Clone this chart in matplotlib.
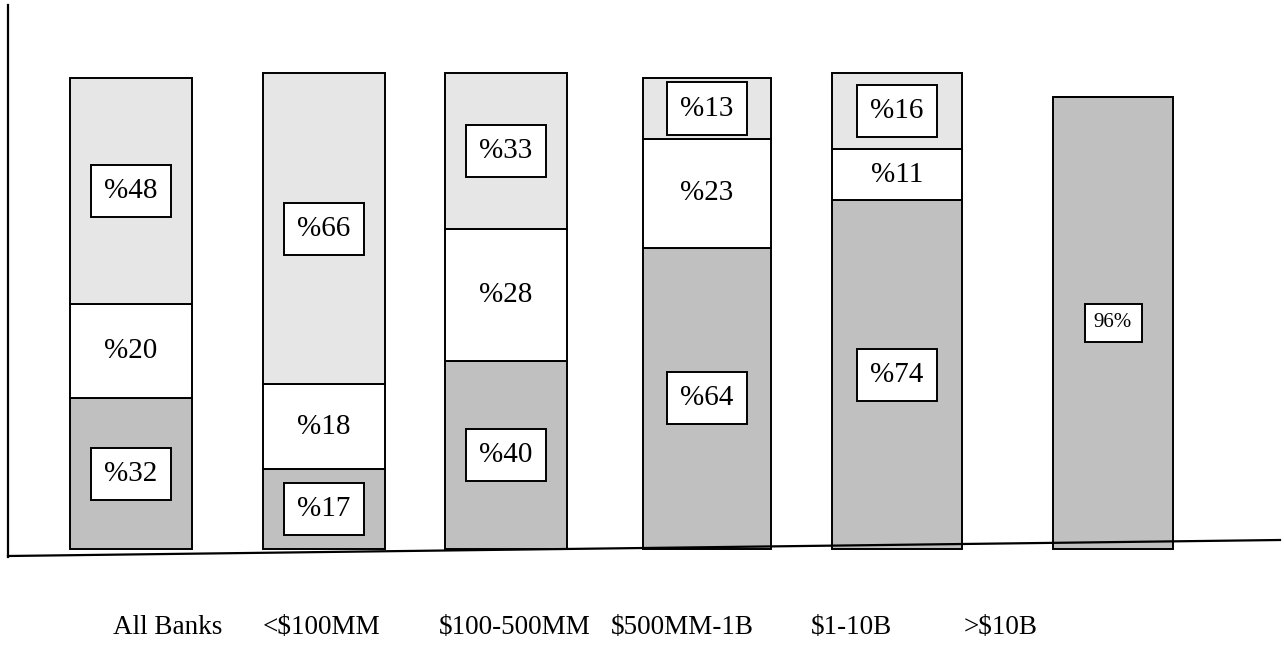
import matplotlib.pyplot as plt
import numpy as np

plt.rcParams['font.family'] = ['Liberation Serif', 'DejaVu Serif']

categories = ['All Banks', '<$100MM', '$100-500MM', '$500MM-1B', '$1-10B', '>$10B']
bottom_vals = [32, 17, 40, 64, 74, 96]   # dark grey segment
middle_vals = [20, 18, 28, 23, 11, 0]    # white segment
top_vals = [48, 66, 33, 13, 16, 0]       # light grey segment

# layout (pixel based, figure is 1284 x 649)
bar_x = [131, 324, 506, 707, 897, 1113]
bar_w = [122, 122, 122, 128, 130, 120]
label_x = [168, 321, 515, 682, 852, 1001]
PX_ZERO = 549
PX_PER_UNIT = 4.71


def y_of(py):
    return (PX_ZERO - py) / PX_PER_UNIT


def pct_label(v, i):
    # last column is written the other way round
    return f'{v}%' if i == len(categories) - 1 else f'%{v}'


fig = plt.figure(figsize=(12.84, 6.49), dpi=100)
ax = fig.add_axes([0, 0, 1, 1])
ax.set_xlim(0, 1284)
ax.set_ylim(y_of(649), y_of(0))
ax.axis('off')

dark = '#c0c0c0'
light = '#e6e6e6'
lw = 1.4

bottom_arr = np.array(bottom_vals)
middle_arr = np.array(middle_vals)
top_arr = np.array(top_vals)

ax.bar(bar_x, bottom_arr, width=bar_w, color=dark, edgecolor='black', linewidth=lw)
ax.bar(bar_x, middle_arr, width=bar_w, bottom=bottom_arr, color='white',
       edgecolor='black', linewidth=lw)
ax.bar(bar_x, top_arr, width=bar_w, bottom=bottom_arr + middle_arr, color=light,
       edgecolor='black', linewidth=lw)

box = dict(boxstyle='square,pad=0.45', fc='white', ec='black', lw=lw)

for i in range(len(categories)):
    x = bar_x[i]
    b, m, t = bottom_vals[i], middle_vals[i], top_vals[i]
    small = i == len(categories) - 1
    ax.text(x, b / 2, pct_label(b, i), ha='center', va='center',
            fontsize=15 if small else 21, bbox=box)
    if m:
        ax.text(x, b + m / 2, pct_label(m, i), ha='center', va='center', fontsize=21)
    if t:
        ax.text(x, b + m + t / 2, pct_label(t, i), ha='center', va='center',
                fontsize=21, bbox=box)

# hand drawn axes: vertical line and slightly tilted baseline
ax.plot([8, 8], [y_of(5), y_of(557)], color='black', lw=1.6)
ax.plot([8, 1280], [y_of(556), y_of(540)], color='black', lw=1.6)

for x, name in zip(label_x, categories):
    ax.text(x, y_of(627), name, ha='center', va='center', fontsize=19.5)

fig.savefig('out.png', dpi=100)
